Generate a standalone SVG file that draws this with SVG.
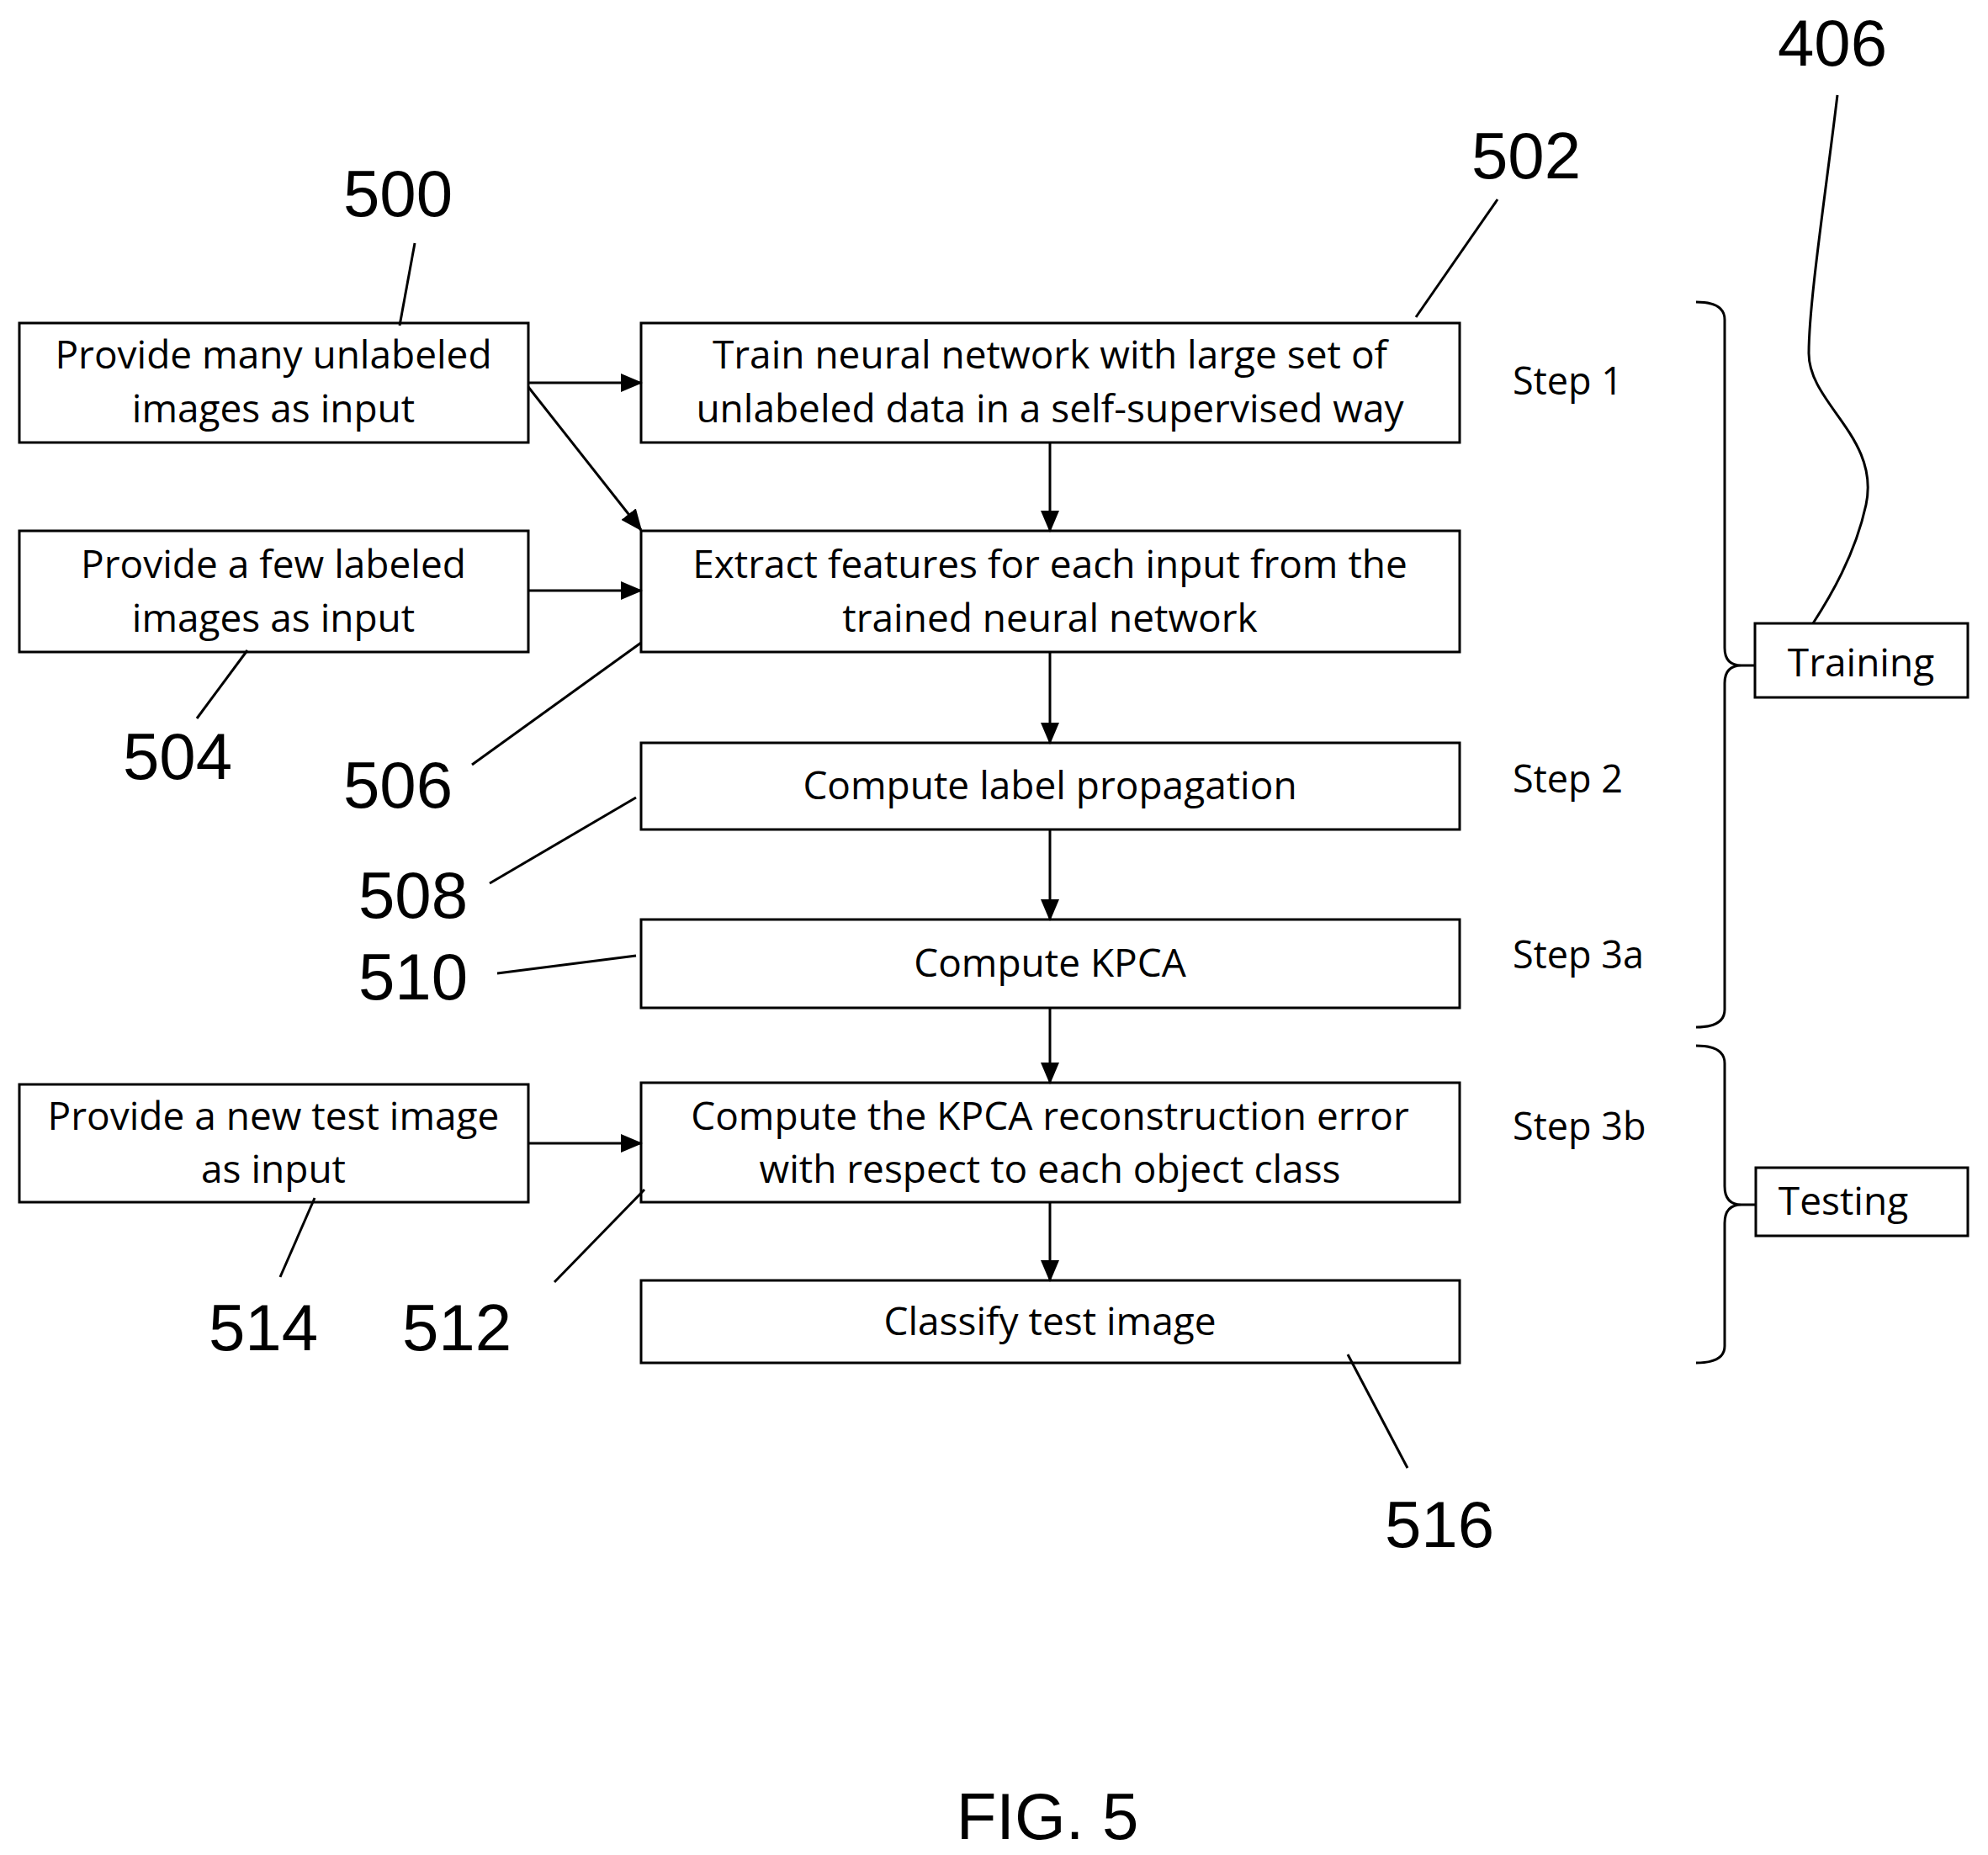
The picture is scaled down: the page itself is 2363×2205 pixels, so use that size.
<svg xmlns="http://www.w3.org/2000/svg" width="2363" height="2205" viewBox="0 0 2363 2205">
<style>
.b{fill:#fff;stroke:#000;stroke-width:3}
.t{font-family:"Open Sans","Liberation Sans",sans-serif;font-size:46px;text-anchor:middle;fill:#000}
.s{font-family:"Open Sans","Liberation Sans",sans-serif;font-size:45px;fill:#000}
.n{font-family:"Liberation Sans",sans-serif;font-size:78px;text-anchor:middle;fill:#000}
.l{fill:none;stroke:#000;stroke-width:3}
</style>
<defs><marker id="a" markerWidth="26" markerHeight="22" refX="24" refY="11" orient="auto" markerUnits="userSpaceOnUse" viewBox="0 0 26 22"><path d="M0,0L26,11L0,22z"/></marker></defs>
<rect width="2363" height="2205" fill="#fff"/>
<g id="n500"><rect class="b" x="23" y="384" width="605" height="142"/><text class="t" x="325" y="438">Provide many unlabeled</text><text class="t" x="325" y="502">images as input</text></g>
<g id="n502"><rect class="b" x="762" y="384" width="973" height="142"/><text class="t" x="1248" y="438">Train neural network with large set of</text><text class="t" x="1248" y="502">unlabeled data in a self-supervised way</text></g>
<g id="n504"><rect class="b" x="23" y="631" width="605" height="144"/><text class="t" x="325" y="687">Provide a few labeled</text><text class="t" x="325" y="751">images as input</text></g>
<g id="n506"><rect class="b" x="762" y="631" width="973" height="144"/><text class="t" x="1248" y="687">Extract features for each input from the</text><text class="t" x="1248" y="751">trained neural network</text></g>
<g id="n508"><rect class="b" x="762" y="883" width="973" height="103"/><text class="t" x="1248" y="950">Compute label propagation</text></g>
<g id="n510"><rect class="b" x="762" y="1093" width="973" height="105"/><text class="t" x="1248" y="1161">Compute KPCA</text></g>
<g id="n512"><rect class="b" x="762" y="1287" width="973" height="142"/><text class="t" x="1248" y="1343">Compute the KPCA reconstruction error</text><text class="t" x="1248" y="1406">with respect to each object class</text></g>
<g id="n514"><rect class="b" x="23" y="1289" width="605" height="140"/><text class="t" x="325" y="1343">Provide a new test image</text><text class="t" x="325" y="1406">as input</text></g>
<g id="n516"><rect class="b" x="762" y="1522" width="973" height="98"/><text class="t" x="1248" y="1587">Classify test image</text></g>
<g id="training"><rect class="b" x="2086" y="741" width="253" height="88"/><text class="t" x="2212" y="804">Training</text></g>
<g id="testing"><rect class="b" x="2087" y="1388" width="252" height="81"/><text class="t" x="2191" y="1444">Testing</text></g>
<g id="steps"><text class="s" x="1798" y="469">Step 1</text><text class="s" x="1798" y="942">Step 2</text><text class="s" x="1798" y="1151">Step 3a</text><text class="s" x="1798" y="1355">Step 3b</text></g>
<g id="connectors">
<line class="l" x1="628" y1="455" x2="762" y2="455" marker-end="url(#a)"/>
<line class="l" x1="628" y1="460" x2="762" y2="630" marker-end="url(#a)"/>
<line class="l" x1="628" y1="702" x2="762" y2="702" marker-end="url(#a)"/>
<line class="l" x1="628" y1="1359" x2="762" y2="1359" marker-end="url(#a)"/>
<line class="l" x1="1248" y1="526" x2="1248" y2="631" marker-end="url(#a)"/>
<line class="l" x1="1248" y1="775" x2="1248" y2="883" marker-end="url(#a)"/>
<line class="l" x1="1248" y1="986" x2="1248" y2="1093" marker-end="url(#a)"/>
<line class="l" x1="1248" y1="1198" x2="1248" y2="1287" marker-end="url(#a)"/>
<line class="l" x1="1248" y1="1429" x2="1248" y2="1522" marker-end="url(#a)"/>
<path class="l" d="M2016,359 Q2050,359 2050,380 L2050,770 Q2050,791 2070,791 L2086,791 M2070,791 Q2050,791 2050,812 L2050,1200 Q2050,1221 2016,1221"/>
<path class="l" d="M2016,1243 Q2050,1243 2050,1264 L2050,1410 Q2050,1432 2070,1432 L2087,1432 M2070,1432 Q2050,1432 2050,1454 L2050,1600 Q2050,1620 2016,1620"/>
<line class="l" x1="493" y1="289" x2="475" y2="387"/>
<line class="l" x1="1780" y1="237" x2="1683" y2="377"/>
<path class="l" d="M2184,113 C2170,230 2150,360 2150,420 C2150,480 2235,520 2218,600 C2205,660 2175,710 2155,741"/>
<line class="l" x1="294" y1="773" x2="234" y2="854"/>
<line class="l" x1="762" y1="764" x2="561" y2="909"/>
<line class="l" x1="756" y1="948" x2="582" y2="1050"/>
<line class="l" x1="756" y1="1136" x2="591" y2="1157"/>
<line class="l" x1="766" y1="1414" x2="659" y2="1524"/>
<line class="l" x1="374" y1="1424" x2="333" y2="1518"/>
<line class="l" x1="1602" y1="1610" x2="1673" y2="1745"/>
</g>
<g id="labels">
<text class="n" x="473" y="257">500</text><text class="n" x="1814" y="212">502</text><text class="n" x="2178" y="78">406</text>
<text class="n" x="211" y="926">504</text><text class="n" x="473" y="960">506</text><text class="n" x="491" y="1091">508</text>
<text class="n" x="491" y="1188">510</text><text class="n" x="543" y="1605">512</text><text class="n" x="313" y="1605">514</text>
<text class="n" x="1711" y="1839">516</text><text class="n" x="1245" y="2186">FIG. 5</text>
</g>
</svg>
